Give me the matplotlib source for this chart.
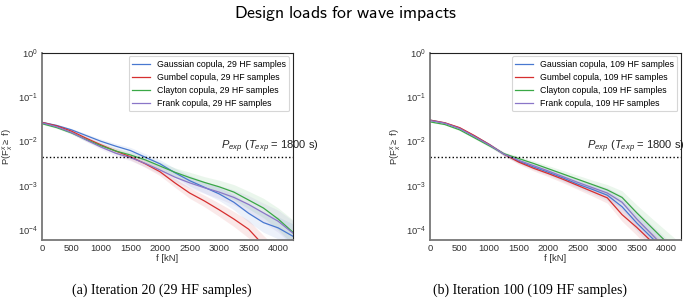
import numpy as np
import matplotlib
matplotlib.use("Agg")
import matplotlib.pyplot as plt

plt.rcParams['font.family'] = ['Liberation Sans', 'DejaVu Sans']
plt.rcParams['mathtext.fontset'] = 'custom'
plt.rcParams['mathtext.rm'] = 'Liberation Sans'
plt.rcParams['mathtext.it'] = 'Liberation Sans:italic'
plt.rcParams['mathtext.sf'] = 'cmss10'

# --- data (log10 of exceedance probability) ---
f_kn = [0, 250, 500, 750, 1000, 1250, 1500, 1750, 2000, 2250,
        2500, 2750, 3000, 3250, 3500, 3750, 4000, 4250]

# (a) iteration 20, 29 HF samples
a_gauss = [-1.57, -1.64, -1.74, -1.87, -2.00, -2.11, -2.21, -2.36, -2.51, -2.71,
           -2.89, -3.04, -3.19, -3.38, -3.63, -3.84, -3.96, -4.15]
a_gumbel = [-1.57, -1.65, -1.77, -1.93, -2.08, -2.22, -2.35, -2.51, -2.69, -2.94,
            -3.17, -3.35, -3.55, -3.76, -3.99, -4.35, -4.70, -5.00]
a_clayton = [-1.60, -1.69, -1.81, -1.96, -2.10, -2.22, -2.31, -2.42, -2.56, -2.70,
             -2.82, -2.93, -3.03, -3.15, -3.33, -3.51, -3.76, -4.06]
a_frank = [-1.58, -1.67, -1.80, -1.97, -2.13, -2.27, -2.37, -2.50, -2.65, -2.81,
           -2.94, -3.05, -3.15, -3.27, -3.43, -3.62, -3.81, -4.08]
a_band = [0.02, 0.02, 0.03, 0.04, 0.05, 0.06, 0.07, 0.08, 0.09, 0.10,
          0.12, 0.13, 0.15, 0.17, 0.20, 0.22, 0.25, 0.28]

# (b) iteration 100, 109 HF samples
b_gauss = [-1.52, -1.585, -1.70, -1.88, -2.07, -2.29, -2.45, -2.58, -2.70, -2.83,
           -2.97, -3.09, -3.22, -3.48, -3.85, -4.18, -4.50, -4.80]
b_gumbel = [-1.52, -1.58, -1.69, -1.87, -2.07, -2.29, -2.47, -2.61, -2.73, -2.86,
            -3.00, -3.14, -3.28, -3.66, -3.95, -4.27, -4.60, -4.90]
b_clayton = [-1.56, -1.62, -1.74, -1.92, -2.10, -2.28, -2.39, -2.50, -2.62, -2.74,
             -2.86, -2.98, -3.10, -3.27, -3.62, -3.95, -4.28, -4.60]
b_frank = [-1.53, -1.59, -1.71, -1.89, -2.08, -2.29, -2.43, -2.55, -2.67, -2.80,
           -2.93, -3.05, -3.17, -3.38, -3.76, -4.10, -4.45, -4.80]
b_band = [0.01, 0.01, 0.02, 0.02, 0.03, 0.04, 0.05, 0.06, 0.07, 0.08,
          0.09, 0.10, 0.12, 0.15, 0.18, 0.21, 0.25, 0.28]

p_exp = 4.5e-3
copulas = ['Gaussian', 'Gumbel', 'Clayton', 'Frank']
colors = ['#4878d0', '#d62f2f', '#3aa846', '#8a76c8']

panels = [
    dict(rect=[0.061, 0.221, 0.365, 0.607], series=[a_gauss, a_gumbel, a_clayton, a_frank],
         band=a_band, n=29, txt_x=3040,
         caption='(a) Iteration 20 (29 HF samples)', cap_x=0.235),
    dict(rect=[0.626, 0.221, 0.365, 0.607], series=[b_gauss, b_gumbel, b_clayton, b_frank],
         band=b_band, n=109, txt_x=2660,
         caption='(b) Iteration 100 (109 HF samples)', cap_x=0.772),
]

fig = plt.figure(figsize=(6.87, 3.08), dpi=100)
fig.text(0.503, 0.955, r'$\mathsf{Design\ loads\ for\ wave\ impacts}$',
         ha='center', va='center', fontsize=12.8)

x = np.array(f_kn, dtype=float)
for p in panels:
    ax = fig.add_axes(p['rect'])
    hw = np.array(p['band'])
    for name, vals, c in zip(copulas, p['series'], colors):
        lv = np.array(vals)
        ax.fill_between(x, 10.0 ** (lv - hw), 10.0 ** (lv + hw), color=c, alpha=0.1, linewidth=0)
        ax.plot(x, 10.0 ** lv, color=c, linewidth=0.9,
                label=f'{name} copula, {p["n"]} HF samples')
    ax.axhline(p_exp, color='k', linestyle=':', linewidth=1.0)
    ax.text(p['txt_x'], p_exp * 1.08, r'$P_{exp}$ ($T_{exp}$ = 1800 s)', fontsize=8,
            ha='left', va='bottom', color='#222222')
    ax.set_yscale('log')
    ax.set_ylim(5.85e-5, 1)
    ax.set_xlim(0, 4245)
    ax.set_yticks([1e0, 1e-1, 1e-2, 1e-3, 1e-4])
    ax.minorticks_off()
    ax.set_xticks(np.arange(0, 4001, 500))
    ax.tick_params(labelsize=6.8, length=0, pad=3, colors='#333333')
    for side in ['top', 'right']:
        ax.spines[side].set_color('#222222')
    for side in ['left', 'bottom']:
        ax.spines[side].set_color('#777777')
        ax.spines[side].set_linewidth(1.3)
    ax.set_xlabel('f [kN]', fontsize=6.8, labelpad=1, color='#333333')
    ax.set_ylabel(r'P(F$_x^x \geq$ f)', fontsize=6.8, labelpad=2, color='#333333')
    leg = ax.legend(loc='upper right', fontsize=6.3, frameon=True, borderaxespad=0.4,
                    handlelength=2.0, labelspacing=0.45, fancybox=True)
    leg.get_frame().set_edgecolor('#cccccc')
    leg.get_frame().set_linewidth(0.8)
    fig.text(p['cap_x'], 0.057, p['caption'], family='Liberation Serif',
             fontsize=10, ha='center', va='center')

fig.savefig('out.png', dpi=100)
